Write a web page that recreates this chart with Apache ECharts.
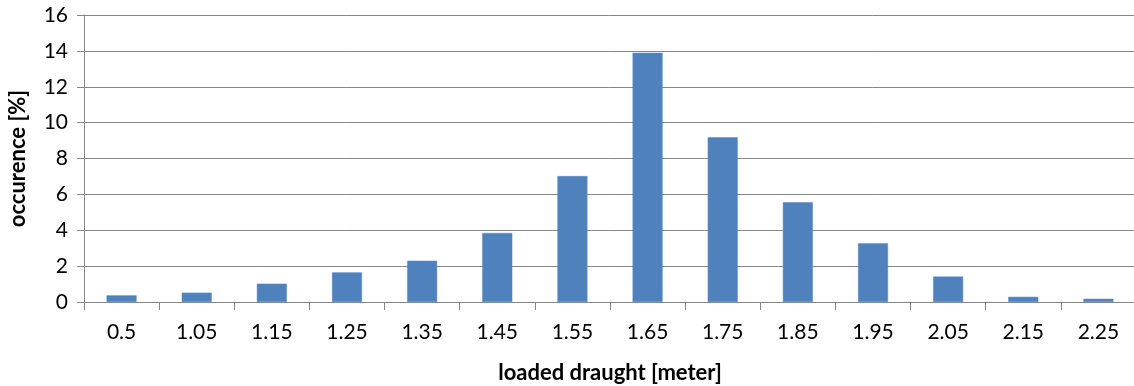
<!DOCTYPE html>
<html>
<head>
<meta charset="utf-8">
<script src="https://cdn.jsdelivr.net/npm/echarts@6/dist/echarts.min.js"></script>
<style>
  html, body { margin: 0; padding: 0; background: #fff; }
  #chart { width: 1134px; height: 386px; }
</style>
</head>
<body>
<div id="chart"></div>
<script>
const categories = ['0.5', '1.05', '1.15', '1.25', '1.35', '1.45', '1.55', '1.65', '1.75', '1.85', '1.95', '2.05', '2.15', '2.25']
const occurence = [0.37, 0.52, 1.02, 1.65, 2.3, 3.85, 7.02, 13.89, 9.18, 5.56, 3.28, 1.42, 0.29, 0.18]

const font = 'Lato, "Open Sans", sans-serif'
const chart = echarts.init(document.getElementById('chart'))
chart.setOption({
  animation: false,
  grid: { left: 84, right: -2, top: 15, bottom: 84, containLabel: false, outerBoundsMode: 'none' },
  xAxis: {
    type: 'category',
    data: categories,
    name: 'loaded draught [meter]',
    nameLocation: 'middle',
    nameGap: 60,
    nameTextStyle: { fontFamily: font, fontSize: 22, fontWeight: 'bold', color: '#000' },
    axisLine: { lineStyle: { color: '#868686', width: 1 } },
    axisTick: { show: true, alignWithLabel: false, length: 8, lineStyle: { color: '#868686' } },
    axisLabel: { fontFamily: font, fontSize: 21, color: '#000', margin: 20 },
  },
  yAxis: {
    type: 'value',
    min: 0,
    max: 16,
    interval: 2,
    name: 'occurence [%]',
    nameLocation: 'middle',
    nameGap: 55,
    nameTextStyle: { fontFamily: font, fontSize: 22, fontWeight: 'bold', color: '#000' },
    axisLine: { show: true, lineStyle: { color: '#868686', width: 1 } },
    axisTick: { show: true, length: 7, lineStyle: { color: '#868686' } },
    axisLabel: { fontFamily: font, fontSize: 21, color: '#000', margin: 16 },
    splitLine: { lineStyle: { color: '#868686', width: 1 } },
  },
  series: [
    {
      type: 'bar',
      data: occurence,
      barWidth: 30,
      itemStyle: { color: '#4F81BD', borderColor: '#5B8BC6', borderWidth: 0.5 },
    },
  ],
})
</script>
</body>
</html>
